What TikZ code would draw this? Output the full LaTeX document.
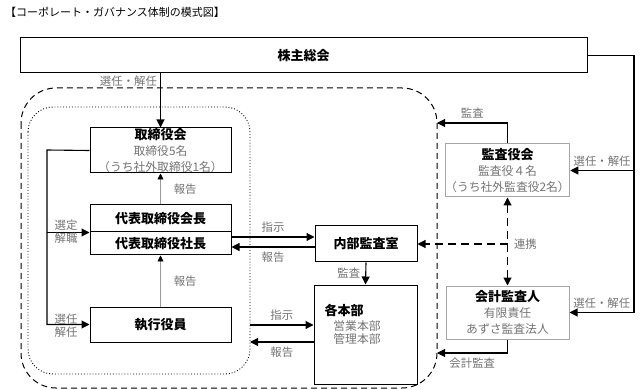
\documentclass[tikz,border=0pt]{standalone}
\usepackage{fontspec}
\setmainfont{Noto Sans CJK JP}
\usetikzlibrary{arrows.meta}
\newcommand\subt{\mdseries\fontsize{11.8pt}{13.5pt}\selectfont\color{black!55}}
\tikzset{
  box/.style={draw,line width=1pt,inner sep=0pt,align=center,font=\bfseries\fontsize{13pt}{16pt}\selectfont},
  gbox/.style={box,draw=black!35},
  lbl/.style={text=black!55,font=\fontsize{11.4pt}{13pt}\selectfont,inner sep=1pt,align=center},
  con/.style={line width=1.1pt,-{Triangle[length=8pt,width=8pt]}},
  rep/.style={draw=black!40,line width=.6pt,-{Triangle[length=6pt,width=6pt,color=black]}},
  dcon/.style={line width=1.1pt,dash pattern=on 8pt off 5pt},
}
\begin{document}
\begin{tikzpicture}[x=1pt,y=-1pt]
\useasboundingbox (0,0) rectangle (640,390);
\node[anchor=west,inner sep=0pt,font=\fontsize{11pt}{13pt}\selectfont] (title) at (5,12) {【コーポレート・ガバナンス体制の模式図】};
\node[box,minimum width=567pt,minimum height=35pt] (kabu) at (303.5,55.5) {株主総会};
\draw[line width=1pt,dash pattern=on 6pt off 4pt,rounded corners=35pt] (21,88) rectangle (437,388);
\draw[dotted,line width=.9pt,rounded corners=25pt] (28,107) rectangle (250,374);

\node[box,minimum width=141pt,minimum height=45pt] (tori) at (160.5,150.5) {取締役会\\\subt 取締役5名\\\subt （うち社外取締役1名）};
\node[box,minimum width=141pt,minimum height=27pt] (kaicho) at (160.5,218.5) {代表取締役会長};
\node[box,minimum width=141pt,minimum height=23pt] (shacho) at (160.5,243.5) {代表取締役社長};
\node[box,minimum width=141pt,minimum height=35pt] (shikko) at (160.5,324.5) {執行役員};
\node[box,minimum width=102pt,minimum height=36pt] (naibu) at (366,244) {内部監査室};
\node[box,minimum width=103pt,minimum height=99pt] (kakuhon) at (365.5,334.5) {};
\node[inner sep=0pt,font=\bfseries\fontsize{13pt}{16pt}\selectfont] (kakuhonT) at (344,310) {各本部};
\node[inner sep=0pt,align=center,font=\subt] (kakuhonS) at (357,332.5) {営業本部\\管理本部};
\node[gbox,minimum width=123pt,minimum height=53pt] (kansa) at (507.5,170.5) {監査役会\\\subt 監査役４名\\\subt （うち社外監査役2名）};
\node[gbox,minimum width=123pt,minimum height=53pt] (kaikei) at (507.5,312.5) {会計監査人\\\subt 有限責任\\\subt あずさ監査法人};

\coordinate (lp) at (47,150);
\coordinate (rt) at (634,55.5);
\coordinate (dotE) at (250,325);
\coordinate (ddA) at (437,123);
\coordinate (ddB) at (437,353);

\draw[con] (kabu.south -| tori.north) -- node[lbl,pos=.14,left=2pt] (l1) {選任・解任} (tori.north);
\draw[rep] (kaicho.north) -- node[lbl,midway,right=12pt] (l2) {報告} (tori.south);
\draw[rep] (shikko.north) -- node[lbl,midway,right=12pt] (l3) {報告} (shacho.south);
\draw[con] (tori.west) -- (lp) |- (shikko.west);
\draw[con] (lp |- kaicho.south west) -- (kaicho.south west);
\node[lbl] (l4) at (66,231.5) {選定\\解職};
\node[lbl] (l5) at (66,325.5) {選任\\解任};

\draw[con] ([yshift=7pt]naibu.west -| shacho.east) -- node[lbl,above=3pt] (l6) {指示} ([yshift=7pt]naibu.west);
\draw[con] ([yshift=-3pt]naibu.west) -- node[lbl,below=3pt] (l7) {報告} ([yshift=-3pt]naibu.west -| shacho.east);
\draw[con] (dotE) -- node[lbl,above=3pt] (l8) {指示} (dotE -| kakuhon.west);
\draw[con] ([yshift=-7.5pt]kakuhon.west) -- node[lbl,below=3pt] (l9) {報告} ([yshift=-7.5pt]kakuhon.west -| dotE);
\draw[con] (naibu.south) -- node[lbl,left=4pt] (l10) {監査} (kakuhon.north);

\draw[con] (kansa.north) |- node[lbl,pos=.75,above=3pt] (l11) {監査} (ddA);
\draw[con] (kaikei.south) |- node[lbl,pos=.75,below=3pt] (l12) {会計監査} (ddB);
\draw[dcon,{Triangle[length=8pt,width=8pt]}-{Triangle[length=8pt,width=8pt]}] (kansa.south) -- (kaikei.north);
\draw[dcon,-{Triangle[length=8pt,width=8pt]}] (kansa.south |- naibu.east) -- node[lbl,pos=0,right=5pt] (l13) {連携} (naibu.east);

\draw[con] (kabu.east) -- (rt) |- node[lbl,pos=.75,above=3pt] (l14) {選任・解任} (kaikei.east);
\draw[con] (rt |- kansa.east) -- node[lbl,above=3pt] (l15) {選任・解任} (kansa.east);
\end{tikzpicture}
\end{document}
